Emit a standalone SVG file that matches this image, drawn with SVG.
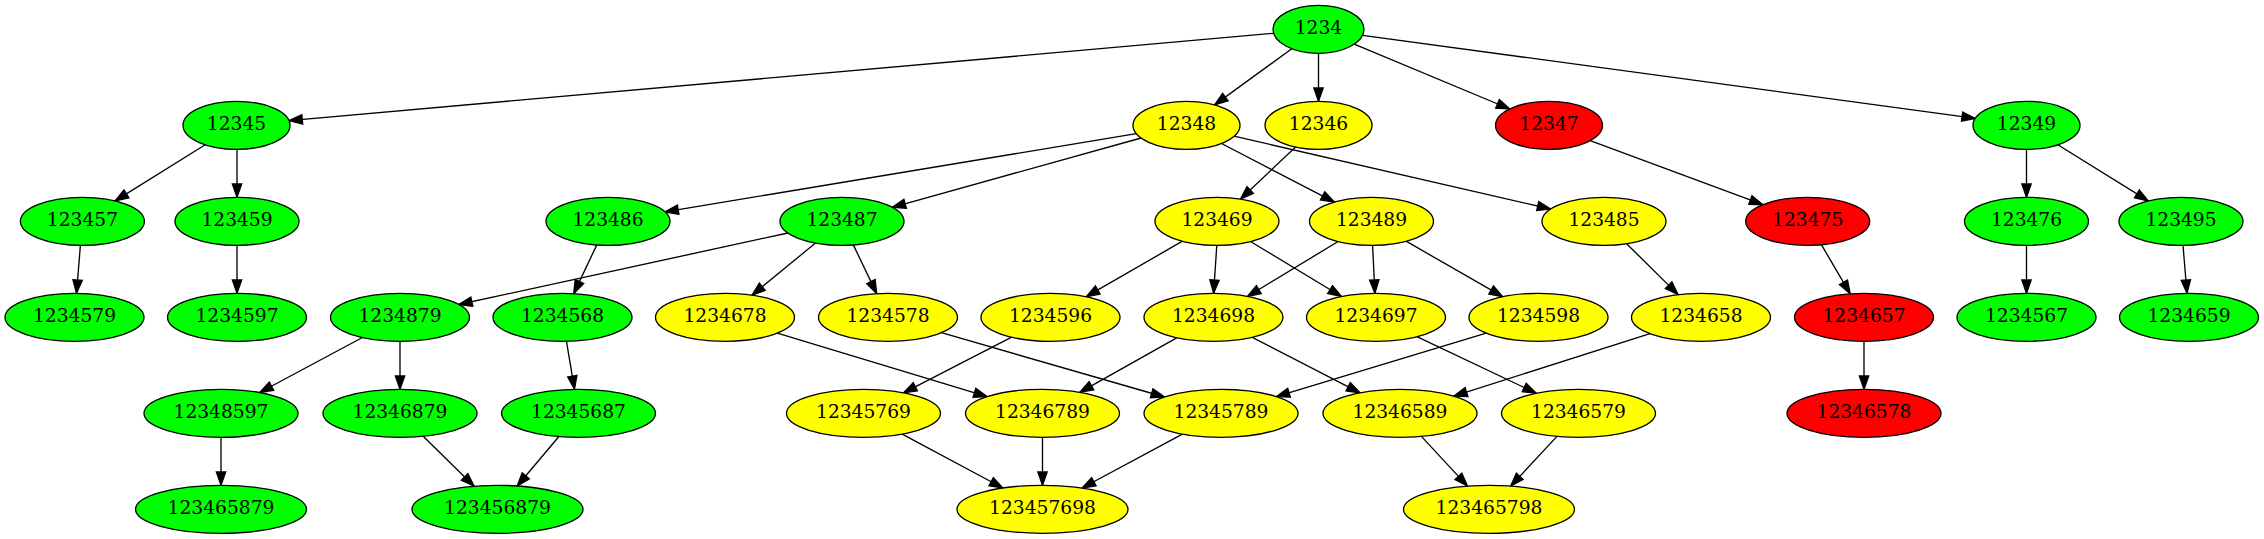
<svg xmlns="http://www.w3.org/2000/svg" width="2264" height="539" viewBox="0 0 2264 539">
<defs>
<style>
.node ellipse{stroke:#000;stroke-width:1.33}
.g ellipse{fill:#00ff00}
.y ellipse{fill:#ffff00}
.r ellipse{fill:#ff0000}
.node text{font-family:"DejaVu Serif","Liberation Serif",serif;font-size:18.67px;text-anchor:middle;fill:#000}
#edges path{fill:none;stroke:#000;stroke-width:1.33}
</style>
<marker id="arr" markerUnits="userSpaceOnUse" markerWidth="16" markerHeight="12" refX="13.33" refY="4.67" orient="auto" overflow="visible">
<path d="M0,0 L13.33,4.67 L0,9.33 Z" fill="#000" stroke="#000" stroke-width="1.33"/>
</marker>
</defs>
<rect width="2264" height="539" fill="#fff"/>
<g id="edges">
<path d="M1273.6,33.3 L289,120.6" marker-end="url(#arr)"/>
<path d="M1291.8,48.7 L1214.6,104.9" marker-end="url(#arr)"/>
<path d="M1318.5,53.3 L1318.5,101.3" marker-end="url(#arr)"/>
<path d="M1354.2,44.2 L1509.8,109" marker-end="url(#arr)"/>
<path d="M1362.6,35.3 L1975.3,118.4" marker-end="url(#arr)"/>
<path d="M205.2,144.8 L115.1,200.9" marker-end="url(#arr)"/>
<path d="M237,149.3 L237,197.3" marker-end="url(#arr)"/>
<path d="M1136.3,133.6 L665,211.8" marker-end="url(#arr)"/>
<path d="M1141.1,138 L892.3,207.3" marker-end="url(#arr)"/>
<path d="M1221.5,143.5 L1334.4,202.1" marker-end="url(#arr)"/>
<path d="M1234.1,136.2 L1550.7,209" marker-end="url(#arr)"/>
<path d="M1295.6,147 L1240.5,199.1" marker-end="url(#arr)"/>
<path d="M1590.2,140.6 L1762.9,204.7" marker-end="url(#arr)"/>
<path d="M2026.5,149.3 L2026.5,197.3" marker-end="url(#arr)"/>
<path d="M2057.8,144.8 L2148.2,200.9" marker-end="url(#arr)"/>
<path d="M80.4,245.3 L76.5,293.3" marker-end="url(#arr)"/>
<path d="M237,245.3 L237,293.3" marker-end="url(#arr)"/>
<path d="M596.8,244.9 L573.7,293.6" marker-end="url(#arr)"/>
<path d="M787.9,233 L458.8,304.5" marker-end="url(#arr)"/>
<path d="M815.5,243 L752,295.2" marker-end="url(#arr)"/>
<path d="M853.3,244.9 L876.7,293.6" marker-end="url(#arr)"/>
<path d="M1182.4,241.2 L1086.2,296.7" marker-end="url(#arr)"/>
<path d="M1216.8,245.3 L1213.6,293.3" marker-end="url(#arr)"/>
<path d="M1250.5,241.5 L1341.5,296.5" marker-end="url(#arr)"/>
<path d="M1338.1,241.5 L1247.4,296.5" marker-end="url(#arr)"/>
<path d="M1372.6,245.3 L1374.9,293.3" marker-end="url(#arr)"/>
<path d="M1406.1,241.2 L1502.7,296.7" marker-end="url(#arr)"/>
<path d="M1626.6,243.7 L1678.1,294.6" marker-end="url(#arr)"/>
<path d="M1821.4,244.7 L1850.2,293.8" marker-end="url(#arr)"/>
<path d="M2026.5,245.3 L2026.5,293.3" marker-end="url(#arr)"/>
<path d="M2183,245.3 L2187,293.3" marker-end="url(#arr)"/>
<path d="M362.4,337.5 L259.7,392.5" marker-end="url(#arr)"/>
<path d="M400,341.3 L400,389.3" marker-end="url(#arr)"/>
<path d="M566.5,341.3 L574.5,389.3" marker-end="url(#arr)"/>
<path d="M777.3,333.1 L987.2,396.6" marker-end="url(#arr)"/>
<path d="M941.4,332.7 L1164.5,397" marker-end="url(#arr)"/>
<path d="M1011.7,337.2 L903.5,392.8" marker-end="url(#arr)"/>
<path d="M1176.7,337.8 L1079.8,392.3" marker-end="url(#arr)"/>
<path d="M1251.8,337.2 L1360,392.8" marker-end="url(#arr)"/>
<path d="M1416.9,336.7 L1536.2,393.2" marker-end="url(#arr)"/>
<path d="M1486.2,333.1 L1276.3,396.6" marker-end="url(#arr)"/>
<path d="M1650,333.6 L1453.8,396.1" marker-end="url(#arr)"/>
<path d="M1864,341.3 L1864,389.3" marker-end="url(#arr)"/>
<path d="M221,437.3 L221,485.3" marker-end="url(#arr)"/>
<path d="M423.2,436.2 L474.1,486.2" marker-end="url(#arr)"/>
<path d="M558.9,436.5 L517.2,486" marker-end="url(#arr)"/>
<path d="M902.2,434.1 L1002.9,488" marker-end="url(#arr)"/>
<path d="M1042.5,437.3 L1042.5,485.3" marker-end="url(#arr)"/>
<path d="M1182.4,434.1 L1082.1,488" marker-end="url(#arr)"/>
<path d="M1421.4,436.4 L1467.5,486.1" marker-end="url(#arr)"/>
<path d="M1557,436.4 L1510.7,486.1" marker-end="url(#arr)"/>
</g>
<g id="n1234" class="node g"><ellipse cx="1318.5" cy="29.3" rx="45.5" ry="24"/><text x="1318.5" y="34.3">1234</text></g>
<g id="n12345" class="node g"><ellipse cx="236.5" cy="125.3" rx="53.5" ry="24"/><text x="236.5" y="130.3">12345</text></g>
<g id="n12348" class="node y"><ellipse cx="1186.5" cy="125.3" rx="53.5" ry="24"/><text x="1186.5" y="130.3">12348</text></g>
<g id="n12346" class="node y"><ellipse cx="1318.5" cy="125.3" rx="53.5" ry="24"/><text x="1318.5" y="130.3">12346</text></g>
<g id="n12347" class="node r"><ellipse cx="1549" cy="125.3" rx="53.5" ry="24"/><text x="1549" y="130.3">12347</text></g>
<g id="n12349" class="node g"><ellipse cx="2026.5" cy="125.3" rx="53.5" ry="24"/><text x="2026.5" y="130.3">12349</text></g>
<g id="n123457" class="node g"><ellipse cx="82.4" cy="221.3" rx="62" ry="24"/><text x="82.4" y="226.3">123457</text></g>
<g id="n123459" class="node g"><ellipse cx="237" cy="221.3" rx="62" ry="24"/><text x="237" y="226.3">123459</text></g>
<g id="n123486" class="node g"><ellipse cx="608" cy="221.3" rx="62" ry="24"/><text x="608" y="226.3">123486</text></g>
<g id="n123487" class="node g"><ellipse cx="842" cy="221.3" rx="62" ry="24"/><text x="842" y="226.3">123487</text></g>
<g id="n123469" class="node y"><ellipse cx="1217" cy="221.3" rx="62" ry="24"/><text x="1217" y="226.3">123469</text></g>
<g id="n123489" class="node y"><ellipse cx="1371.5" cy="221.3" rx="62" ry="24"/><text x="1371.5" y="226.3">123489</text></g>
<g id="n123485" class="node y"><ellipse cx="1604" cy="221.3" rx="62" ry="24"/><text x="1604" y="226.3">123485</text></g>
<g id="n123475" class="node r"><ellipse cx="1807.7" cy="221.3" rx="62" ry="24"/><text x="1807.7" y="226.3">123475</text></g>
<g id="n123476" class="node g"><ellipse cx="2026.5" cy="221.3" rx="62" ry="24"/><text x="2026.5" y="226.3">123476</text></g>
<g id="n123495" class="node g"><ellipse cx="2181" cy="221.3" rx="62" ry="24"/><text x="2181" y="226.3">123495</text></g>
<g id="n1234579" class="node g"><ellipse cx="74.5" cy="317.3" rx="69.5" ry="24"/><text x="74.5" y="322.3">1234579</text></g>
<g id="n1234597" class="node g"><ellipse cx="237" cy="317.3" rx="69.5" ry="24"/><text x="237" y="322.3">1234597</text></g>
<g id="n1234879" class="node g"><ellipse cx="400" cy="317.3" rx="69.5" ry="24"/><text x="400" y="322.3">1234879</text></g>
<g id="n1234568" class="node g"><ellipse cx="562.5" cy="317.3" rx="69.5" ry="24"/><text x="562.5" y="322.3">1234568</text></g>
<g id="n1234678" class="node y"><ellipse cx="725" cy="317.3" rx="69.5" ry="24"/><text x="725" y="322.3">1234678</text></g>
<g id="n1234578" class="node y"><ellipse cx="888" cy="317.3" rx="69.5" ry="24"/><text x="888" y="322.3">1234578</text></g>
<g id="n1234596" class="node y"><ellipse cx="1050.5" cy="317.3" rx="69.5" ry="24"/><text x="1050.5" y="322.3">1234596</text></g>
<g id="n1234698" class="node y"><ellipse cx="1213.5" cy="317.3" rx="69.5" ry="24"/><text x="1213.5" y="322.3">1234698</text></g>
<g id="n1234697" class="node y"><ellipse cx="1376" cy="317.3" rx="69.5" ry="24"/><text x="1376" y="322.3">1234697</text></g>
<g id="n1234598" class="node y"><ellipse cx="1538.5" cy="317.3" rx="69.5" ry="24"/><text x="1538.5" y="322.3">1234598</text></g>
<g id="n1234658" class="node y"><ellipse cx="1701" cy="317.3" rx="69.5" ry="24"/><text x="1701" y="322.3">1234658</text></g>
<g id="n1234657" class="node r"><ellipse cx="1864" cy="317.3" rx="69.5" ry="24"/><text x="1864" y="322.3">1234657</text></g>
<g id="n1234567" class="node g"><ellipse cx="2026.5" cy="317.3" rx="69.5" ry="24"/><text x="2026.5" y="322.3">1234567</text></g>
<g id="n1234659" class="node g"><ellipse cx="2189" cy="317.3" rx="69.5" ry="24"/><text x="2189" y="322.3">1234659</text></g>
<g id="n12348597" class="node g"><ellipse cx="221" cy="413.3" rx="77" ry="24"/><text x="221" y="418.3">12348597</text></g>
<g id="n12346879" class="node g"><ellipse cx="400" cy="413.3" rx="77" ry="24"/><text x="400" y="418.3">12346879</text></g>
<g id="n12345687" class="node g"><ellipse cx="578.5" cy="413.3" rx="77" ry="24"/><text x="578.5" y="418.3">12345687</text></g>
<g id="n12345769" class="node y"><ellipse cx="863.5" cy="413.3" rx="77" ry="24"/><text x="863.5" y="418.3">12345769</text></g>
<g id="n12346789" class="node y"><ellipse cx="1042.5" cy="413.3" rx="77" ry="24"/><text x="1042.5" y="418.3">12346789</text></g>
<g id="n12345789" class="node y"><ellipse cx="1221" cy="413.3" rx="77" ry="24"/><text x="1221" y="418.3">12345789</text></g>
<g id="n12346589" class="node y"><ellipse cx="1400" cy="413.3" rx="77" ry="24"/><text x="1400" y="418.3">12346589</text></g>
<g id="n12346579" class="node y"><ellipse cx="1578.5" cy="413.3" rx="77" ry="24"/><text x="1578.5" y="418.3">12346579</text></g>
<g id="n12346578" class="node r"><ellipse cx="1864" cy="413.3" rx="77" ry="24"/><text x="1864" y="418.3">12346578</text></g>
<g id="n123465879" class="node g"><ellipse cx="221" cy="509.3" rx="85.5" ry="24"/><text x="221" y="514.3">123465879</text></g>
<g id="n123456879" class="node g"><ellipse cx="497.5" cy="509.3" rx="85.5" ry="24"/><text x="497.5" y="514.3">123456879</text></g>
<g id="n123457698" class="node y"><ellipse cx="1042.5" cy="509.3" rx="85.5" ry="24"/><text x="1042.5" y="514.3">123457698</text></g>
<g id="n123465798" class="node y"><ellipse cx="1489" cy="509.3" rx="85.5" ry="24"/><text x="1489" y="514.3">123465798</text></g>
</svg>
